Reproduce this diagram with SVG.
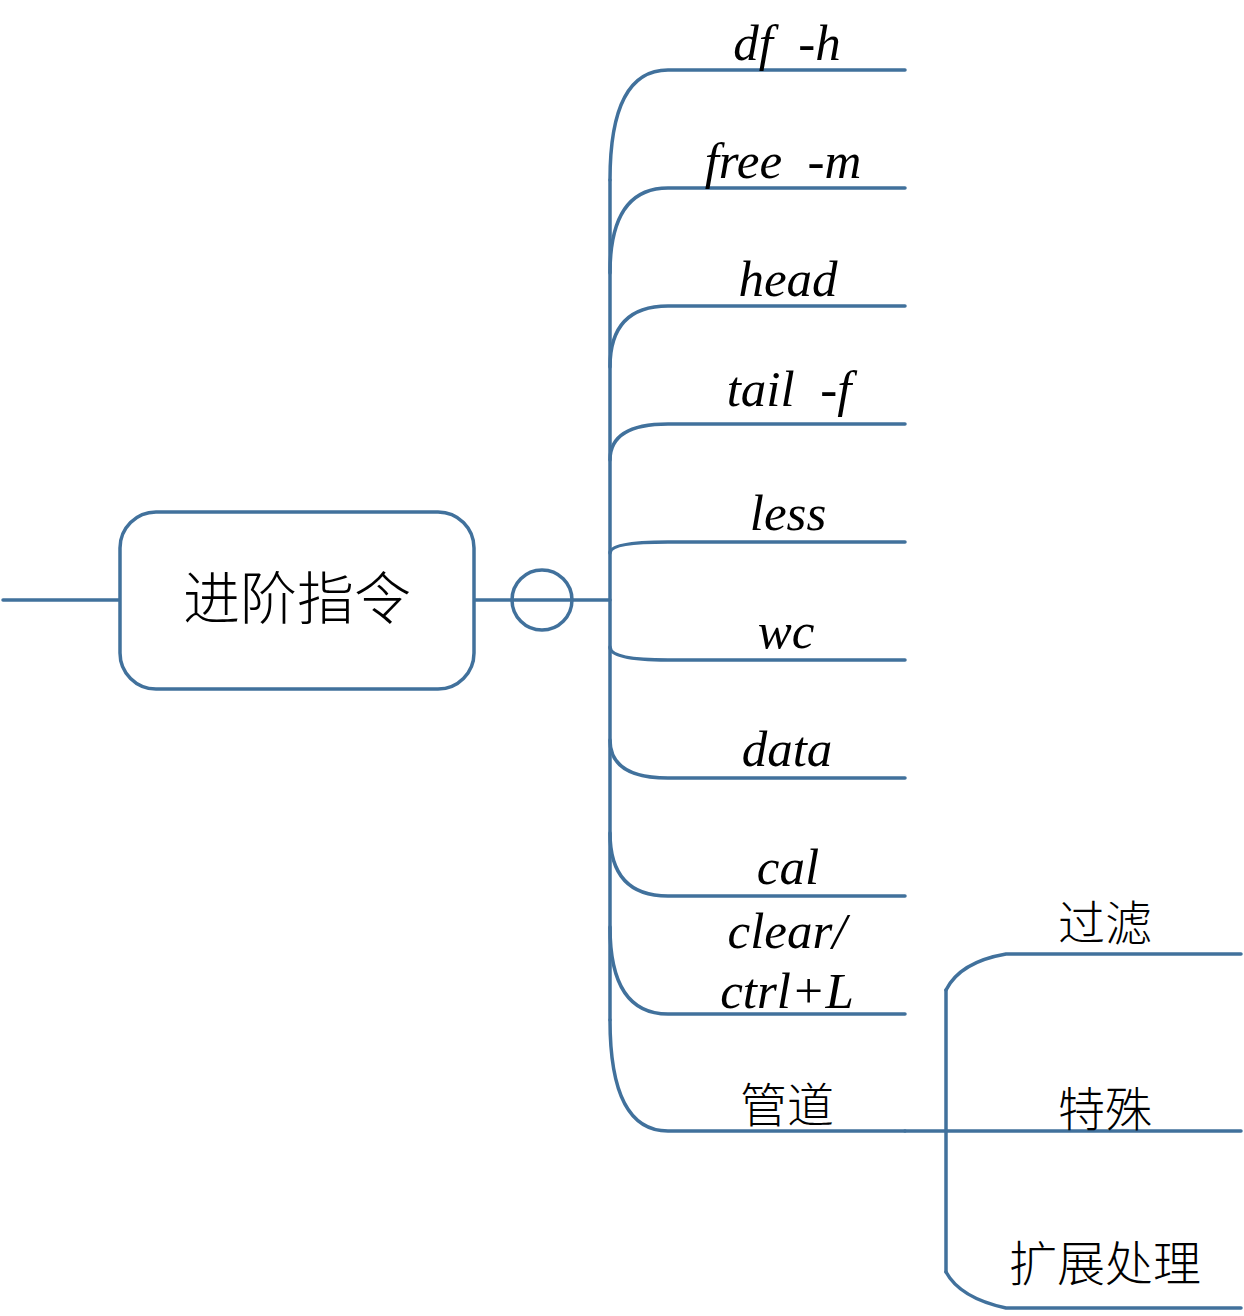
<svg xmlns="http://www.w3.org/2000/svg" width="1244" height="1316" viewBox="0 0 1244 1316">
<style>
.ln{fill:none;stroke:#41719C;stroke-width:3.5;stroke-linecap:round}
.lb{font-size:51px;fill:#000;text-anchor:middle;white-space:pre}
.cj{font-size:47px;fill:#000;text-anchor:middle;font-weight:300}
</style>
<rect width="1244" height="1316" fill="#fff"/>
<g id="connectors">
<path class="ln" d="M3,600 H120"/>
<path class="ln" d="M474,600 H610"/>
<path class="ln" d="M610,180 V1020"/>
<path class="ln" d="M610,180 Q610,70 668,70 H905"/>
<path class="ln" d="M610,273 Q610,188 668,188 H905"/>
<path class="ln" d="M610,367 Q610,306 668,306 H905"/>
<path class="ln" d="M610,460 Q610,424 668,424 H905"/>
<path class="ln" d="M610,553 Q610,542 668,542 H905"/>
<path class="ln" d="M610,647 Q610,660 668,660 H905"/>
<path class="ln" d="M610,740 Q610,778 668,778 H905"/>
<path class="ln" d="M610,833 Q610,896 668,896 H905"/>
<path class="ln" d="M610,927 Q610,1014 668,1014 H905"/>
<path class="ln" d="M610,1020 Q610,1131 668,1131 H905"/>
<path class="ln" d="M905,1131 H1241"/>
<path class="ln" d="M946,990 V1272"/>
<path class="ln" d="M946,990 Q960,962 1006,954 H1241"/>
<path class="ln" d="M946,1272 Q960,1298 1006,1308 H1241"/>
</g>
<g font-family="Liberation Serif, Noto Sans CJK SC, serif">
<g id="root">
<rect x="120" y="512" width="354" height="177" rx="36" fill="#fff" stroke="#41719C" stroke-width="3.5"/>
<text x="297" y="619" class="cj" style="font-size:57px">进阶指令</text>
</g>
<g id="joint">
<circle cx="542" cy="600" r="30" fill="none" stroke="#41719C" stroke-width="3.5"/>
</g>
<g font-style="italic">
<g id="n-df"><text x="787" y="60" class="lb">df  -h</text></g>
<g id="n-free"><text x="783" y="178" class="lb">free  -m</text></g>
<g id="n-head"><text x="788" y="296" class="lb">head</text></g>
<g id="n-tail"><text x="789" y="406" class="lb">tail  -f</text></g>
<g id="n-less"><text x="788" y="530" class="lb">less</text></g>
<g id="n-wc"><text x="786" y="648" class="lb">wc</text></g>
<g id="n-data"><text x="787" y="766" class="lb">data</text></g>
<g id="n-cal"><text x="788" y="884" class="lb">cal</text></g>
<g id="n-clear"><text x="787" y="948" class="lb">clear/</text><text x="787" y="1008" class="lb">ctrl+L</text></g>
</g>
<g id="n-pipe"><text x="787" y="1122" class="cj">管道</text></g>
<g id="n-filter"><text x="1105" y="940" class="cj">过滤</text></g>
<g id="n-special"><text x="1105" y="1126" class="cj">特殊</text></g>
<g id="n-ext"><text x="1105" y="1281" class="cj" style="font-size:48px">扩展处理</text></g>
</g>
</svg>
